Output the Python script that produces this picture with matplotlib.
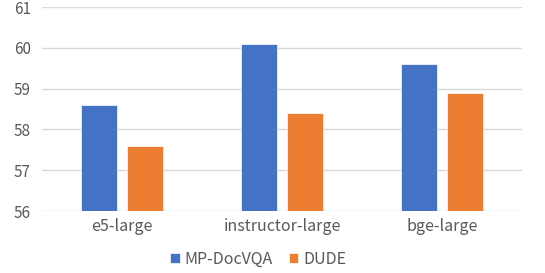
import matplotlib
matplotlib.use("Agg")
import matplotlib.pyplot as plt
import numpy as np

plt.rcParams['font.family'] = ['Noto Sans CJK SC', 'DejaVu Sans']

categories = ["e5-large", "instructor-large", "bge-large"]
mp_docvqa = [58.6, 60.1, 59.6]
dude = [57.6, 58.4, 58.9]
yticks = [56, 57, 58, 59, 60, 61]

fig = plt.figure(figsize=(5.45, 2.73), dpi=100)
ax = fig.add_axes([42/545, 1-211/273, 480/545, 204/273])

x = np.arange(len(categories))
w = 0.225
ax.bar(x - 0.144, [v - 56 for v in mp_docvqa], w, bottom=56, color="#4472C4",
       edgecolor="white", linewidth=0.5, label="MP-DocVQA", zorder=3)
ax.bar(x + 0.141, [v - 56 for v in dude], w, bottom=56, color="#ED7D31",
       edgecolor="white", linewidth=0.5, label="DUDE", zorder=3)

ax.set_xlim(-0.5, 2.5)
ax.set_ylim(56, 61)
ax.set_yticks(yticks)
ax.set_xticks(x)
ax.set_xticklabels(categories)
ax.grid(axis="y", color="#D9D9D9", linewidth=1, zorder=0)
for s in ax.spines.values():
    s.set_visible(False)
ax.tick_params(axis="both", length=0, colors="#595959", labelsize=11)
ax.tick_params(axis="x", labelsize=11.5, pad=5)
ax.tick_params(axis="y", pad=8)

leg = fig.legend(loc="center", bbox_to_anchor=(258/545, 1-259/273), ncol=2,
                 frameon=False, fontsize=11.5, handlelength=0.6, handleheight=0.6,
                 handletextpad=0.3, columnspacing=1.0)
for t in leg.get_texts():
    t.set_color("#595959")

fig.savefig("out.png", dpi=100)
